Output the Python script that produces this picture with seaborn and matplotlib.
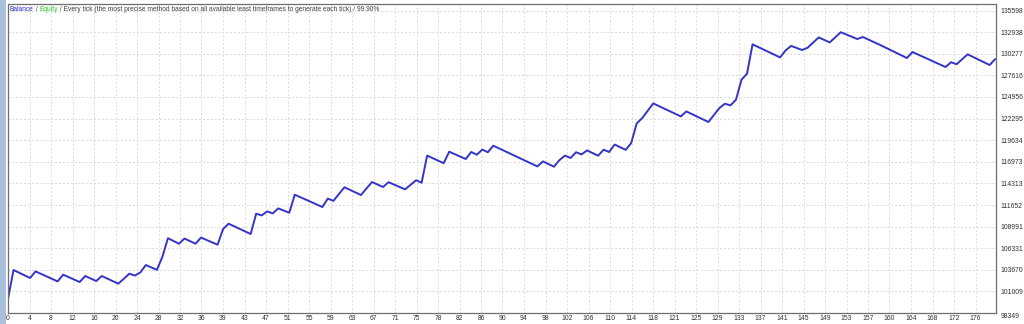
import numpy as np
import pandas as pd
import matplotlib
matplotlib.use("Agg")
import matplotlib.pyplot as plt
from matplotlib.patches import Rectangle
import seaborn as sns

# ---- data (trade number at each vertex, balance) ----
trade_no = [0, 1, 4, 5, 9, 10, 13, 14, 16, 17, 20, 21, 22, 23, 24, 25, 27, 28, 29, 31,
            32, 34, 35, 38, 39, 40, 44, 45, 46, 47, 48, 49, 51, 52, 57, 58, 59, 61, 64, 66,
            68, 69, 72, 74, 75, 76, 79, 80, 83, 84, 85, 86, 87, 88, 96, 97, 99, 100, 101, 102,
            103, 104, 105, 107, 108, 109, 110, 112, 113, 114, 115, 117, 122, 123, 127, 129, 130,
            131, 132, 133, 134, 135, 140, 141, 142, 144, 145, 147, 149, 151, 154, 155, 158, 163,
            164, 170, 171, 172, 174, 178, 179]
balance = [100073, 103645, 102660, 103473, 102241, 103066, 102167, 102906, 102290, 102906,
           101958, 102560, 103190, 102960, 103350, 104261, 103660, 105280, 107560, 106885,
           107520, 106885, 107640, 106760, 108695, 109348, 108079, 110580, 110371, 110863,
           110617, 111233, 110703, 112920, 111405, 112440, 112160, 113840, 112883, 114484,
           113868, 114460, 113580, 114700, 114400, 117740, 116800, 118216, 117317, 118180,
           117847, 118480, 118150, 118955, 116405, 117022, 116369, 117190, 117740, 117440,
           118150, 117884, 118376, 117724, 118463, 118180, 119100, 118440, 119288, 121700,
           122367, 124165, 122564, 123180, 121874, 123599, 124128, 123919, 124621, 127085,
           127824, 131440, 129831, 130694, 131250, 130740, 131030, 132295, 131679, 132935,
           132098, 132344, 131410, 129757, 130497, 128649, 129240, 128990, 130210, 128895,
           129634]

x_tick_labels = ["0", "4", "8", "12", "16", "20", "24", "28", "32", "36", "39", "43", "47",
                 "51", "55", "59", "63", "67", "71", "75", "78", "82", "86", "90", "94", "98",
                 "102", "106", "110", "114", "118", "121", "125", "129", "133", "137", "141",
                 "145", "149", "153", "157", "160", "164", "168", "172", "176"]
y_tick_labels = ["98349", "101009", "103670", "106331", "108991", "111652", "114313",
                 "116973", "119634", "122295", "124956", "127616", "130277", "132938", "135598"]

df = pd.DataFrame({"trade": trade_no, "balance": balance})

sns.set_style("white")
plt.rcParams["font.family"] = ["Liberation Sans", "DejaVu Sans"]

W, H = 1024, 324
fig = plt.figure(figsize=(W / 100, H / 100), dpi=100)
fig.patch.set_facecolor("white")

# left window chrome strip
fig.patches.append(Rectangle((0, 0), 6 / W, 1, transform=fig.transFigure,
                             facecolor="#A9C1DD", edgecolor="none", zorder=0))

left_px, right_px, top_px, bottom_px = 8, 996, 4, 313
ax = fig.add_axes([left_px / W, (H - bottom_px) / H,
                   (right_px - left_px) / W, (bottom_px - top_px) / H])

line_color = "#3434C8"
sns.lineplot(data=df, x="trade", y="balance", ax=ax, color=line_color,
             linewidth=1.4, estimator=None, sort=False)

px_per_trade = 5.515
grid_px = 21.5
x_max = (right_px - left_px) / px_per_trade
ax.set_xlim(0, x_max)
y_vals = [float(v) for v in y_tick_labels]
y_step = (y_vals[-1] - y_vals[0]) / (len(y_vals) - 1)
px_per_val = 21.6 / y_step
ax.set_ylim(y_vals[0], y_vals[0] + (bottom_px - top_px) / px_per_val)

xt = np.arange(len(x_tick_labels)) * grid_px / px_per_trade
ax.set_xticks(xt)
ax.set_xticklabels(x_tick_labels)
ax.set_yticks(y_vals)
ax.set_yticklabels(y_tick_labels)
ax.yaxis.tick_right()
ax.tick_params(axis="both", length=0, labelsize=4.9, colors="#303030")
ax.tick_params(axis="x", pad=1.5)
ax.tick_params(axis="y", pad=3)
for lab in ax.get_yticklabels():
    lab.set_horizontalalignment("left")
ax.get_yticklabels()[0].set_verticalalignment("top")

ax.set_xlabel("")
ax.set_ylabel("")
ax.grid(True, color="#DADADA", linestyle=(0, (2, 2)), linewidth=0.7)
ax.set_axisbelow(True)
for s in ax.spines.values():
    s.set_color("#6E6E6E")
    s.set_linewidth(0.9)
    s.set_visible(True)

# header text with coloured parts
parts = [("Balance", "#2828C8"), (" / ", "#404040"), ("Equity", "#2EC82E"),
         (" / Every tick (the most precise method based on all available least timeframes "
          "to generate each tick) / 99.90%", "#404040")]
fig.canvas.draw()
renderer = fig.canvas.get_renderer()
x_cur = 10.0
y_c = H - 9.5
for txt, col in parts:
    t = fig.text(x_cur / W, y_c / H, txt, color=col, fontsize=4.77,
                 ha="left", va="center")
    bb = t.get_window_extent(renderer=renderer)
    x_cur += bb.width

fig.savefig("out.png", dpi=100)
